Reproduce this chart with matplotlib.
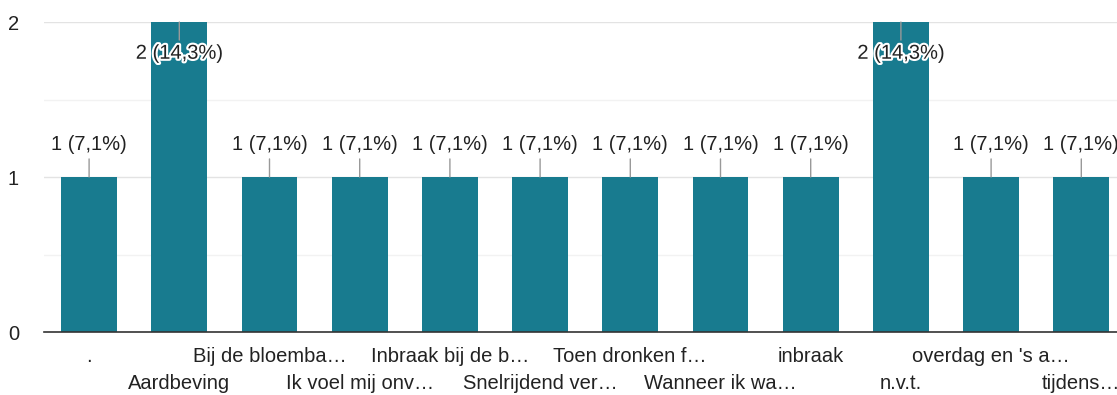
import matplotlib
matplotlib.use("Agg")
import matplotlib.pyplot as plt
import matplotlib.patheffects as pe
from matplotlib.transforms import blended_transform_factory

plt.rcParams['font.family'] = ['Liberation Sans', 'DejaVu Sans']

categories = [".", "Aardbeving", "Bij de bloemba…", "Ik voel mij onv…",
              "Inbraak bij de b…", "Snelrijdend ver…", "Toen dronken f…",
              "Wanneer ik wa…", "inbraak", "n.v.t.", "overdag en 's a…",
              "tijdens…"]
counts = [1, 2, 1, 1, 1, 1, 1, 1, 1, 2, 1, 1]
total = 14
yticks = [0, 1, 2]

bar_color = "#187b8f"
text_color = "#222222"
fs = 14.5

fig = plt.figure(figsize=(11.17, 3.95), dpi=100)
ax = fig.add_axes([44 / 1117, 63 / 395, 1082.4 / 1117, 310 / 395])

x = list(range(len(categories)))
ax.bar(x, counts, width=0.62, color=bar_color, zorder=2)

ax.set_xlim(-0.5, len(categories) - 0.5)
ax.set_ylim(0, max(counts))
ax.set_yticks(yticks)
ax.set_yticks([0.5, 1.5], minor=True)
ax.grid(axis='y', which='major', color="#e3e3e3", linewidth=1.0, zorder=0)
ax.grid(axis='y', which='minor', color="#f2f2f2", linewidth=1.0, zorder=0)
ax.tick_params(axis='y', which='both', length=0, pad=18, labelsize=fs,
               labelcolor=text_color)
ax.tick_params(axis='x', which='both', length=0, labelbottom=False)
for side in ("top", "right", "left"):
    ax.spines[side].set_visible(False)
ax.spines['bottom'].set_color("#333333")
ax.spines['bottom'].set_linewidth(1.2)
ax.spines['bottom'].set_zorder(3)

# value labels with leader lines
halo = [pe.withStroke(linewidth=3, foreground="white")]
for i, v in enumerate(counts):
    pct = f"{v / total * 100:.1f}".replace(".", ",")
    label = f"{v} ({pct}%)"
    if v == max(counts):
        ax.annotate("", xy=(i, v), xytext=(0, -13), textcoords="offset points",
                    arrowprops=dict(arrowstyle="-", color="#999999", lw=1.0,
                                    shrinkA=0, shrinkB=0), zorder=3)
        ax.annotate(label, xy=(i, v), xytext=(0, -22.5), textcoords="offset points",
                    ha="center", va="center", fontsize=fs, color=text_color,
                    path_effects=halo, zorder=4)
    else:
        ax.annotate("", xy=(i, v), xytext=(0, 13), textcoords="offset points",
                    arrowprops=dict(arrowstyle="-", color="#999999", lw=1.0,
                                    shrinkA=0, shrinkB=0), zorder=3)
        ax.annotate(label, xy=(i, v), xytext=(0, 23.5), textcoords="offset points",
                    ha="center", va="center", fontsize=fs, color=text_color,
                    zorder=4)

# category labels staggered on two rows
trans = blended_transform_factory(ax.transData, ax.transAxes)
for i, name in enumerate(categories):
    dy = -18 if i % 2 == 0 else -37
    ax.annotate(name, xy=(i, 0), xycoords=trans, xytext=(0, dy),
                textcoords="offset points", ha="center", va="center",
                fontsize=fs, color=text_color)

fig.savefig("out.png", dpi=100)
